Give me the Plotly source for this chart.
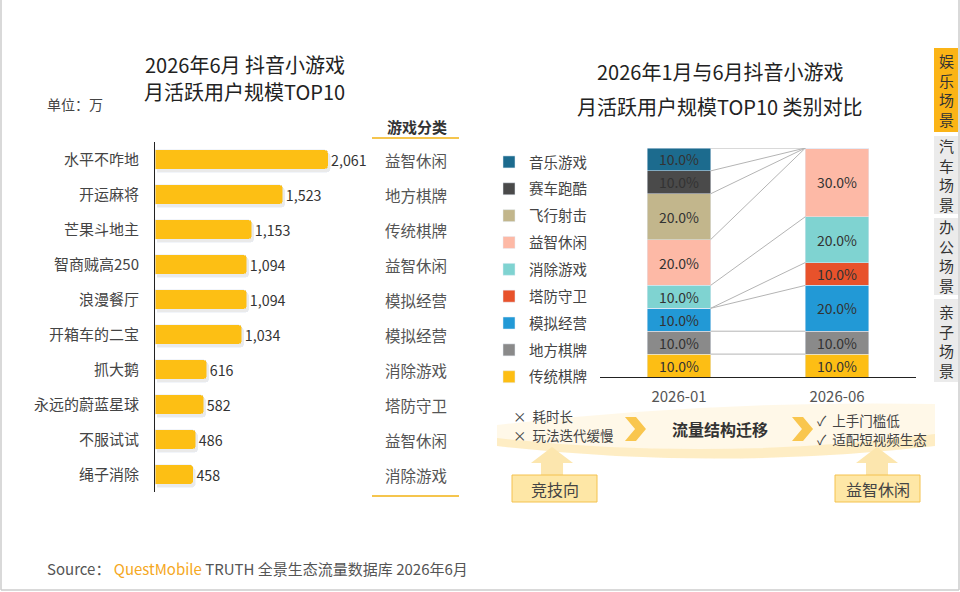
import numpy as np
import plotly.graph_objects as go

W, H = 960, 592

# 左图：6月 抖音小游戏 月活 TOP10（单位：万）
games = ["水平不咋地", "开运麻将", "芒果斗地主", "智商贼高250", "浪漫餐厅",
         "开箱车的二宝", "抓大鹅", "永远的蔚蓝星球", "不服试试", "绳子消除"]
mau = [2061, 1523, 1153, 1094, 1094, 1034, 616, 582, 486, 458]
game_types = ["益智休闲", "地方棋牌", "传统棋牌", "益智休闲", "模拟经营",
              "模拟经营", "消除游戏", "塔防守卫", "益智休闲", "消除游戏"]

# 右图：1月与6月 TOP10 类别占比（%），自下而上
periods = ["2026-01", "2026-06"]
segments = ["传统棋牌", "地方棋牌", "模拟经营", "塔防守卫", "消除游戏",
            "益智休闲", "飞行射击", "赛车跑酷", "音乐游戏"]
share_jan = [10, 10, 10, 0, 10, 20, 20, 10, 10]
share_jun = [10, 10, 20, 10, 20, 30, 0, 0, 0]
seg_colors = ["#FDBE14", "#8A8A8A", "#2299D6", "#E8522B", "#7FD3D1",
              "#FDB9A6", "#C2B68C", "#4A4A4A", "#1C6B8E"]

tabs = ["娱乐场景", "汽车场景", "办公场景", "亲子场景"]

FONT = "Noto Sans CJK SC, Noto Sans, sans-serif"


def px(x):
    return x / W


def py(y):
    return 1 - y / H


def path(points, close=True):
    s = "M " + " L ".join(f"{px(x):.4f},{py(y):.4f}" for x, y in points)
    return s + (" Z" if close else "")


def note(x, y, text, size=15, color="#444444", xanchor="center", yref="paper"):
    return dict(x=px(x), y=py(y) if yref == "paper" else y, xref="paper",
                yref=yref, text=text, showarrow=False,
                xanchor=xanchor, yanchor="middle",
                font=dict(size=size, color=color))


fig = go.Figure()

# ---- 左图 ----
# 阴影
fig.add_trace(go.Bar(
    x=mau, y=games, orientation="h", xaxis="x", yaxis="y",
    width=0.57, marker=dict(color="rgba(90,90,90,0.13)", cornerradius=4),
    hoverinfo="skip", showlegend=False,
))
fig.add_trace(go.Bar(
    x=mau, y=games, orientation="h", xaxis="x3", yaxis="y3",
    width=0.57, marker=dict(color="#FDBF14", cornerradius=4),
    text=mau, texttemplate="%{x:,}", textposition="outside",
    textfont=dict(size=15, color="#333333"), cliponaxis=False,
    showlegend=False,
))

# ---- 右图 ----
n_seg = len(segments)
for i, (name, a, b, c) in enumerate(zip(segments, share_jan, share_jun, seg_colors)):
    vals = [a, b]
    fig.add_trace(go.Bar(
        x=[0, 1], y=vals, name=name, xaxis="x2", yaxis="y2",
        width=0.4, marker=dict(color=c),
        text=[f"{v:.1f}%" if v > 0 else "" for v in vals],
        textposition="inside", insidetextanchor="middle",
        textfont=dict(size=14, color="#333333"), constraintext="none",
        legendgroup=name, legendrank=n_seg - i,
    ))

# 连接线：各类别上沿
top_jan = np.cumsum(share_jan)
top_jun = np.cumsum(share_jun)
for a, b in zip(top_jan, top_jun):
    fig.add_trace(go.Scatter(
        x=[0.2, 0.8], y=[a, b], mode="lines", xaxis="x2", yaxis="y2",
        line=dict(color="#B4B4B4", width=1), hoverinfo="skip",
        showlegend=False,
    ))

left_x = [px(155), px(380)]
left_y = [py(492), py(142)]
sh_x, sh_y = 2, 3

fig.update_layout(
    width=W, height=H,
    margin=dict(l=0, r=0, t=0, b=0),
    paper_bgcolor="white", plot_bgcolor="rgba(0,0,0,0)",
    font=dict(family=FONT, color="#444444"),
    barmode="stack",
    xaxis=dict(domain=[px(155 + sh_x), px(380 + sh_x)], range=[0, 2680],
               anchor="y", visible=False),
    yaxis=dict(domain=[py(492 + sh_y), py(142 + sh_y)], type="category",
               categoryorder="array", categoryarray=games, anchor="x",
               autorange="reversed", visible=False),
    xaxis3=dict(domain=left_x, range=[0, 2680], anchor="y3", visible=False),
    yaxis3=dict(domain=left_y, type="category", categoryorder="array",
                categoryarray=games, autorange="reversed", anchor="x3",
                showline=True, linecolor="#222222", linewidth=1,
                ticks="", ticklabelstandoff=12, showgrid=False,
                tickfont=dict(size=15, color="#444444")),
    xaxis2=dict(domain=[px(600), px(916)], range=[-0.5, 1.5], anchor="y2",
                tickvals=[0, 1], ticktext=periods, ticks="",
                showline=True, linecolor="#222222", linewidth=1,
                showgrid=False, zeroline=False, ticklabelstandoff=6,
                tickfont=dict(size=15, color="#555555")),
    yaxis2=dict(domain=[py(377), py(148)], range=[0, 100], anchor="x2",
                visible=False),
    legend=dict(x=px(489), y=py(146), xanchor="left", yanchor="top",
                traceorder="grouped", tracegroupgap=5, itemwidth=30,
                font=dict(size=14.5, color="#444444"),
                bgcolor="rgba(0,0,0,0)"),
    showlegend=True,
)

ann = []
shapes = []

# 标题
ann.append(note(245, 65, "2026年6月 抖音小游戏", 20, "#222222"))
ann.append(note(245, 92, "月活跃用户规模TOP10", 20, "#222222"))
ann.append(note(720, 72, "2026年1月与6月抖音小游戏", 20, "#222222"))
ann.append(note(720, 106, "月活跃用户规模TOP10 类别对比", 20, "#222222"))

ann.append(note(45, 104, "单位：万", 14, "#444444", xanchor="left"))

# 游戏分类列
ann.append(note(417, 126, "<b>游戏分类</b>", 15, "#333333"))
for g, t in zip(games, game_types):
    ann.append(note(416, g, t, 15.5, "#555555", yref="y3"))
for y in (138, 496):
    shapes.append(dict(type="line", xref="paper", yref="paper",
                       x0=px(372), x1=px(459), y0=py(y), y1=py(y),
                       line=dict(color="#F5C54E", width=2)))

# 底部流向带
shapes.append(dict(type="path", xref="paper", yref="paper", layer="below",
                   path=(f"M {px(497)},{py(425)} Q {px(716)},{py(400)} {px(935)},{py(404)} "
                         f"L {px(935)},{py(446)} Q {px(716)},{py(471)} {px(497)},{py(446)} Z"),
                   fillcolor="rgba(254,240,205,0.45)", line=dict(width=0)))
shapes.append(dict(type="path", xref="paper", yref="paper", layer="below",
                   path=(f"M {px(497)},{py(438)} Q {px(716)},{py(462)} {px(935)},{py(434)} "
                         f"L {px(935)},{py(446)} Q {px(716)},{py(471)} {px(497)},{py(446)} Z"),
                   fillcolor="rgba(252,218,130,0.35)", line=dict(width=0)))
for cx in (625, 792):
    shapes.append(dict(type="path", xref="paper", yref="paper",
                       path=path([(cx, 417), (cx + 11, 417), (cx + 21, 429),
                                  (cx + 11, 441), (cx, 441), (cx + 10, 429)]),
                       fillcolor="#F9C64E", line=dict(width=0)))
for cx in (552, 877):
    shapes.append(dict(type="path", xref="paper", yref="paper",
                       path=path([(cx, 447), (cx + 21, 463), (cx + 11, 463),
                                  (cx + 11, 476), (cx - 11, 476), (cx - 11, 463),
                                  (cx - 21, 463)]),
                       fillcolor="#FCE6AE", line=dict(width=0)))
for x0, x1, t in [(512, 597, "竞技向"), (835, 920, "益智休闲")]:
    shapes.append(dict(type="rect", xref="paper", yref="paper",
                       x0=px(x0), x1=px(x1), y0=py(502), y1=py(475),
                       fillcolor="#FEE7A6", line=dict(color="#F4C24E", width=1)))
    ann.append(note((x0 + x1) / 2, 489, t, 16, "#444444"))

ann.append(note(511, 416, "×  耗时长", 13.5, xanchor="left"))
ann.append(note(511, 435, "×  玩法迭代缓慢", 13.5, xanchor="left"))
ann.append(note(815, 420, "✓  上手门槛低", 13.5, xanchor="left"))
ann.append(note(815, 439, "✓  适配短视频生态", 13.5, xanchor="left"))
ann.append(note(720, 429, "<b>流量结构迁移</b>", 16, "#333333"))

# 右侧场景标签
tab_y = [(48, 132), (136, 214), (218, 295), (299, 382)]
for i, (t, (y0, y1)) in enumerate(zip(tabs, tab_y)):
    shapes.append(dict(type="rect", xref="paper", yref="paper",
                       x0=px(934), x1=px(958), y0=py(y1), y1=py(y0),
                       fillcolor="#FBB416" if i == 0 else "#EBEBEB",
                       line=dict(width=0)))
    ann.append(note(946, (y0 + y1) / 2, "<br>".join(t), 15, "#333333"))

# 边框
shapes.append(dict(type="line", xref="paper", yref="paper", x0=px(1), x1=px(1),
                   y0=py(590), y1=1, line=dict(color="#CCCCCC", width=1.5)))
shapes.append(dict(type="line", xref="paper", yref="paper", x0=px(959), x1=px(959),
                   y0=py(590), y1=1, line=dict(color="#CCCCCC", width=1.5)))
shapes.append(dict(type="line", xref="paper", yref="paper", x0=px(1), x1=px(959),
                   y0=py(590), y1=py(590), line=dict(color="#CCCCCC", width=1.5)))

# 来源
ann.append(note(45, 568,
                "Source： <span style='color:#F5A823'>QuestMobile</span> "
                "TRUTH 全景生态流量数据库 2026年6月",
                15, "#555555", xanchor="left"))

fig.update_layout(annotations=ann, shapes=shapes)

fig.write_html("out.html", config={"displayModeBar": False},
               post_script="document.body.style.margin='0';"
                           "document.body.style.overflow='hidden';")
